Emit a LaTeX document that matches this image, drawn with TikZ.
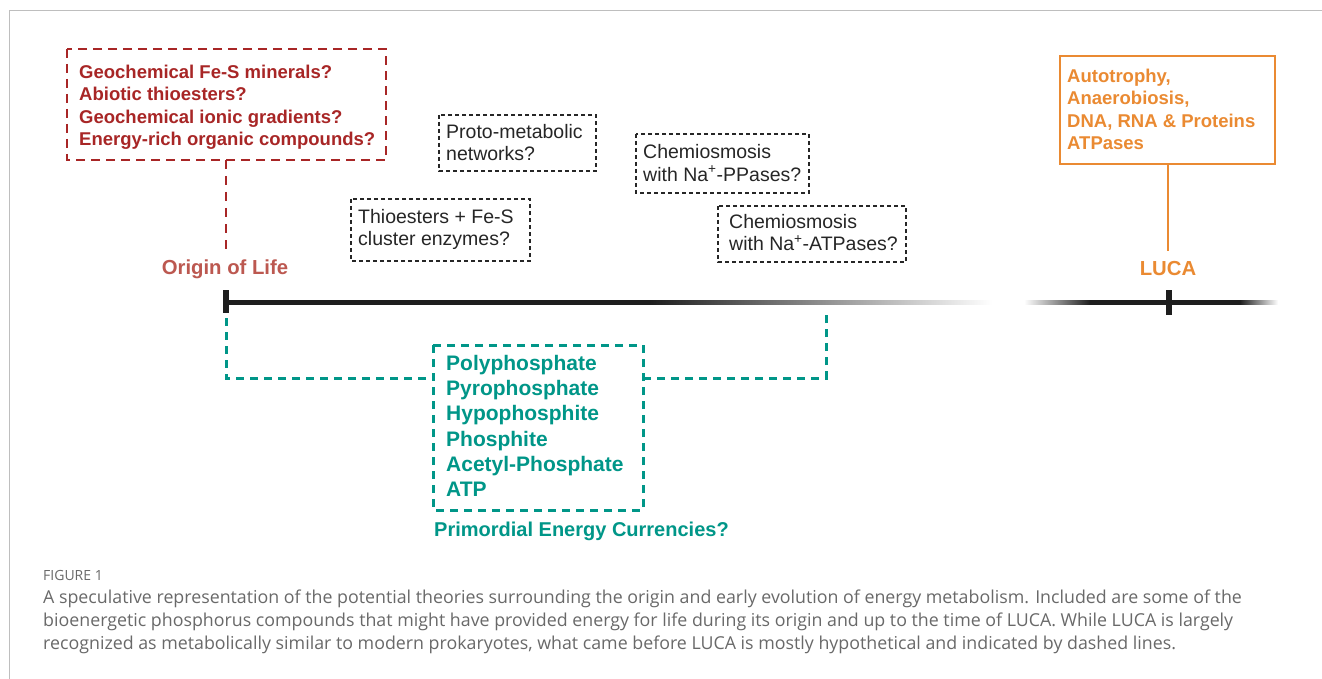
\documentclass[tikz,border=0pt]{standalone}
\usepackage{fontspec}
\setmainfont{Liberation Sans}
\newfontfamily\capfont{Open Sans}
\definecolor{darkred}{RGB}{168,38,38}
\definecolor{lightred}{RGB}{188,88,80}
\definecolor{teal2}{RGB}{0,150,136}
\definecolor{orng}{RGB}{234,138,50}
\definecolor{capgray}{RGB}{105,105,105}
\definecolor{frame}{RGB}{190,190,190}
\definecolor{tl}{RGB}{30,30,30}
\tikzset{
  x=1pt,y=-1pt,
  boxtext/.style={font=\fontsize{19.5}{22.3}\selectfont, align=left, anchor=north west, inner xsep=0pt, inner ysep=0pt},
  redbox/.style={draw=darkred, line width=1.6pt, dash pattern=on 9pt off 6pt},
  blkbox/.style={draw=black!85, line width=1.3pt, dash pattern=on 4pt off 3pt},
  tealline/.style={draw=teal2, line width=3pt, dash pattern=on 8pt off 6pt},
  orgbox/.style={draw=orng, line width=2pt},
  label/.style={font=\bfseries\fontsize{20.3}{22}\selectfont},
  captxt/.style={font=\capfont\fontsize{17.8}{20}\selectfont, text=capgray, anchor=base west, inner sep=0pt},
}
\begin{document}
\begin{tikzpicture}
\useasboundingbox (0,0) rectangle (1322,679);
\fill[white] (0,0) rectangle (1322,679);
% frame
\draw[frame, line width=1pt] (9,679) -- (9,11) -- (1322,11);

% red box
\draw[redbox] (67,49) rectangle (386,160);
\node[boxtext, text=darkred, font=\bfseries\fontsize{18.5}{22.5}\selectfont] (geo) at (79,64.5)
 {Geochemical Fe-S minerals?\\Abiotic thioesters?\\Geochemical ionic gradients?\\Energy-rich organic compounds?};
\coordinate (geob) at (226,160);
\node[label, text=lightred] (ool) at (225,269) {Origin of Life};
\draw[redbox, dash pattern=on 9pt off 7pt] (geob) -- (226,252);

% black dashed boxes
\draw[blkbox] (439,115) rectangle (596,171);
\node[boxtext, text=black!85] (proto) at (446,124) {Proto-metabolic\\networks?};
\draw[blkbox] (351,199) rectangle (530,261);
\node[boxtext, text=black!85] (thio) at (358,209) {Thioesters + Fe-S\\cluster enzymes?};
\draw[blkbox] (636,134) rectangle (809,193);
\node[boxtext, text=black!85, font=\fontsize{19.5}{23}\selectfont] (ppase) at (643,144) {Chemiosmosis\\with Na\textsuperscript{+}-PPases?};
\draw[blkbox] (718,206) rectangle (906,262);
\node[boxtext, text=black!85] (atpase) at (729,214) {Chemiosmosis\\with Na\textsuperscript{+}-ATPases?};

% timeline
\fill[tl] (226,300) rectangle (650,304.5);
\shade[left color=tl, right color=white] (650,300) rectangle (992,304.5);
\shade[left color=white, right color=tl] (1024,300) rectangle (1090,304.5);
\fill[tl] (1090,300) rectangle (1240,304.5);
\shade[left color=tl, right color=white] (1240,300) rectangle (1278,304.5);
\fill[tl] (222.5,290) rectangle (228.5,313);
\fill[tl] (1166,290) rectangle (1171.5,315);

% teal bracket and box
\draw[tealline] (226,318) -- (226,378) -- (432,378);
\draw[tealline] (643,378) -- (826,378) -- (826,310);
\draw[tealline] (433,345) rectangle (643,510);
\node[boxtext, text=teal2, font=\bfseries\fontsize{21}{25.2}\selectfont] (pcomp) at (446,355)
 {Polyphosphate\\Pyrophosphate\\Hypophosphite\\Phosphite\\Acetyl-Phosphate\\ATP};
\node[label, text=teal2, anchor=west, inner sep=0pt, font=\bfseries\fontsize{20}{22}\selectfont] (pec) at (434,531) {Primordial Energy Currencies?};

% orange box
\draw[orgbox] (1060,56) rectangle (1275,164);
\node[boxtext, text=orng, font=\bfseries\fontsize{18.5}{22.6}\selectfont] (luca-t) at (1067,68.5)
 {Autotrophy,\\Anaerobiosis,\\DNA, RNA \& Proteins\\ATPases};
\coordinate (orgb) at (1168,164);
\node[label, text=orng] (luca) at (1168,269) {LUCA};
\draw[orng, line width=2pt] (orgb) -- (1168,251);

% caption
\node[captxt, font=\capfont\fontsize{14}{16}\selectfont] (fig) at (43,580) {FIGURE 1};
\node[captxt] (c1) at (43,603.5) {A speculative representation of the potential theories surrounding the origin and early evolution of energy metabolism. Included are some of the};
\node[captxt] (c2) at (43,626.5) {bioenergetic phosphorus compounds that might have provided energy for life during its origin and up to the time of LUCA. While LUCA is largely};
\node[captxt] (c3) at (43,649.5) {recognized as metabolically similar to modern prokaryotes, what came before LUCA is mostly hypothetical and indicated by dashed lines.};
\end{tikzpicture}
\end{document}
